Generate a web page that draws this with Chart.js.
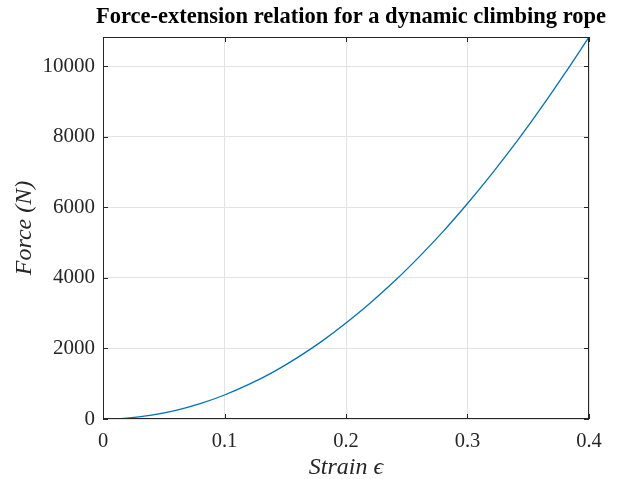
<!DOCTYPE html>
<html>
<head>
<meta charset="utf-8">
<script src="https://cdn.jsdelivr.net/npm/chart.js@4.4.1/dist/chart.umd.min.js"></script>
<style>
  html, body { margin: 0; padding: 0; background: #fff; }
  canvas { display: block; }
</style>
</head>
<body>
<canvas id="rope" width="634" height="479"></canvas>
<script>
// strain values and force
let strain = [0, 0.02, 0.04, 0.06, 0.08, 0.10, 0.12, 0.14, 0.16, 0.18, 0.20,
              0.22, 0.24, 0.26, 0.28, 0.30, 0.32, 0.34, 0.36, 0.38, 0.40];
let force  = [0, 25, 110, 245, 435, 680, 980, 1330, 1740, 2200, 2720,
              3290, 3910, 4590, 5320, 6110, 6950, 7840, 8790, 9790, 10830];
let xTicks = [0, 0.1, 0.2, 0.3, 0.4];
let yTicks = [0, 2000, 4000, 6000, 8000, 10000];

let titleText = "Force-extension relation for a dynamic climbing rope";
let axisColor = "#262626";
let serif = "'Liberation Serif', 'Times New Roman', serif";

let points = strain.map((s, i) => ({ x: s, y: force[i] }));

// box on all four sides, inward ticks, and title centred over the axes
const boxPlugin = {
    id: 'box',
    afterDraw(chart) {
        const ctx = chart.ctx;
        const a = chart.chartArea;
        const xs = chart.scales.x, ys = chart.scales.y;
        ctx.save();
        ctx.strokeStyle = axisColor;
        ctx.lineWidth = 1;
        ctx.strokeRect(a.left + 0.5, a.top + 0.5, a.right - a.left - 1, a.bottom - a.top - 1);
        ctx.beginPath();
        xTicks.forEach(v => {
            const px = Math.round(xs.getPixelForValue(v)) + 0.5;
            ctx.moveTo(px, a.bottom); ctx.lineTo(px, a.bottom - 5);
            ctx.moveTo(px, a.top); ctx.lineTo(px, a.top + 5);
        });
        yTicks.forEach(v => {
            const py = Math.round(ys.getPixelForValue(v)) + 0.5;
            ctx.moveTo(a.left, py); ctx.lineTo(a.left + 5, py);
            ctx.moveTo(a.right, py); ctx.lineTo(a.right - 5, py);
        });
        ctx.stroke();
        ctx.fillStyle = "#000";
        ctx.font = "bold 22.5px " + serif;
        ctx.textAlign = "center";
        ctx.textBaseline = "alphabetic";
        ctx.fillText(titleText, (a.left + a.right) / 2 + 5, 23);
        ctx.restore();
    }
};

function BarGraph(){
    const ctx = document.getElementById('rope').getContext('2d');
    new Chart(ctx, {
        type: 'line',
        data: {
            datasets: [{
                label: 'force',
                data: points,
                borderColor: '#0072BD',
                borderWidth: 1.3,
                pointRadius: 0,
                cubicInterpolationMode: 'monotone',
                fill: false
            }]
        },
        options: {
            responsive: false,
            animation: false,
            layout: { padding: { left: 10, right: 45, top: 37, bottom: 0 } },
            plugins: { legend: { display: false }, tooltip: { enabled: false }, title: { display: false } },
            scales: {
                x: {
                    type: 'linear',
                    min: 0, max: 0.4,
                    afterBuildTicks: s => { s.ticks = xTicks.map(v => ({ value: v })); },
                    afterFit: s => { s.height = 60; },
                    grid: { color: '#e3e3e3', drawTicks: false },
                    border: { display: false },
                    ticks: {
                        padding: 10,
                        color: axisColor,
                        font: { family: serif, size: 20.5 },
                        maxRotation: 0,
                        callback: v => String(+v.toFixed(1))
                    },
                    title: {
                        display: true,
                        text: 'Strain \u03f5',
                        color: axisColor,
                        font: { family: serif, size: 24, style: 'italic' },
                        padding: { top: 0, bottom: -3 }
                    }
                },
                y: {
                    type: 'linear',
                    min: 0, max: 10830,
                    afterBuildTicks: s => { s.ticks = yTicks.map(v => ({ value: v })); },
                    afterFit: s => { s.width = 93; },
                    grid: { color: '#e3e3e3', drawTicks: false },
                    border: { display: false },
                    ticks: {
                        padding: 8,
                        color: axisColor,
                        font: { family: serif, size: 21 },
                        callback: v => String(v)
                    },
                    title: {
                        display: true,
                        text: 'Force (N)',
                        color: axisColor,
                        font: { family: serif, size: 24, style: 'italic' },
                        padding: { top: 0, bottom: 0 }
                    }
                }
            }
        },
        plugins: [boxPlugin]
    });
}

BarGraph();
</script>
</body>
</html>
